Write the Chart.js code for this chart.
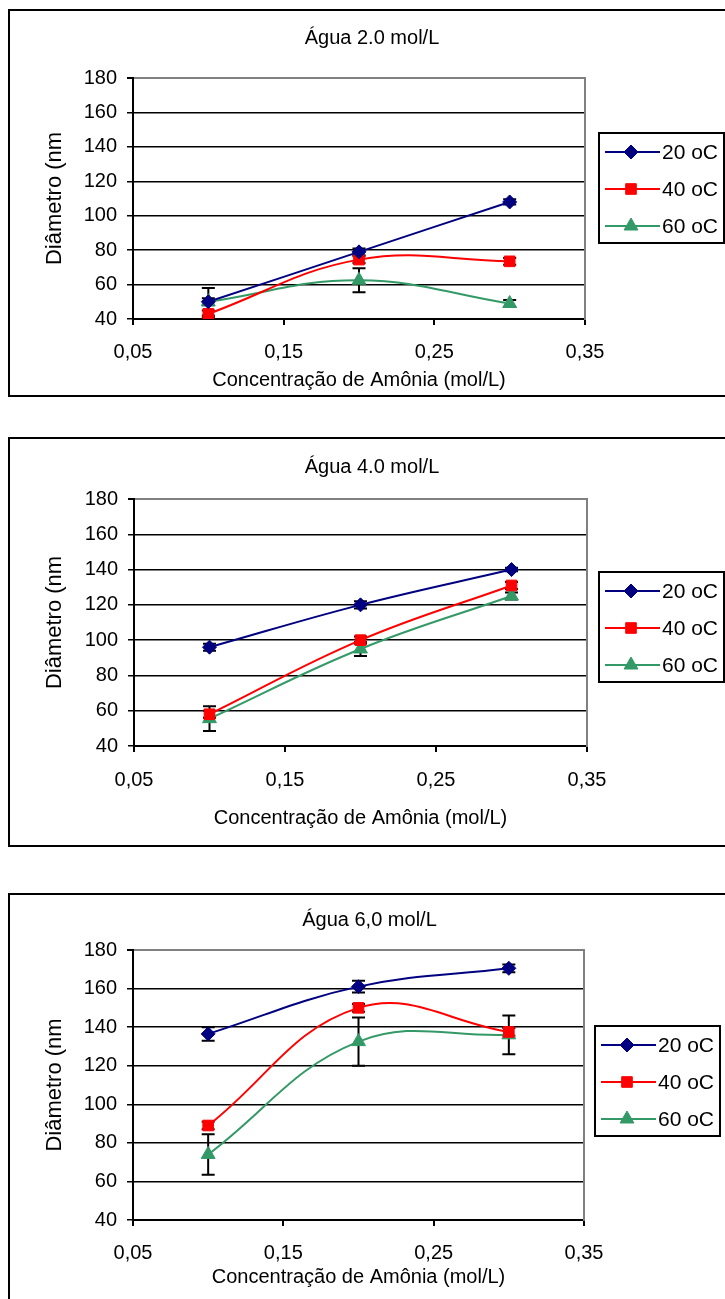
<!DOCTYPE html>
<html><head><meta charset="utf-8">
<script src="https://cdn.jsdelivr.net/npm/chart.js@4.4.1/dist/chart.umd.min.js"></script>
<style>
html,body{margin:0;padding:0;background:#fff;}
body{width:725px;height:1299px;overflow:hidden;position:relative;}
.box{position:absolute;left:8px;width:745px;border:2px solid #000;box-sizing:border-box;background:#fff;}
.box canvas{display:block;}
</style></head><body>
<div class="box" style="top:9px;height:388px"><canvas id="c1" width="741" height="384"></canvas></div>
<div class="box" style="top:437px;height:410px"><canvas id="c2" width="741" height="406"></canvas></div>
<div class="box" style="top:893px;height:420px"><canvas id="c3" width="741" height="416"></canvas></div>
<script>
// ---- data ----
const xValues = [0.1, 0.2, 0.3];
const seriesLabels = ['20 oC', '40 oC', '60 oC'];
const xTickValues = [0.05, 0.15, 0.25, 0.35];
const xTickLabels = ['0,05', '0,15', '0,25', '0,35'];
const yTickValues = [40, 60, 80, 100, 120, 140, 160, 180];
const yTickLabels = ['40', '60', '80', '100', '120', '140', '160', '180'];
const chartTitles = ['Água 2.0 mol/L', 'Água 4.0 mol/L', 'Água 6,0 mol/L'];
const xAxisTitle = 'Concentração de Amônia (mol/L)';
const yAxisTitle = 'Diâmetro (nm';

// Água 2.0 mol/L
const a2_20 = [50, 79, 108];     const a2_20err = [2, 2, 1.5];
const a2_40 = [43, 74.5, 73.5];  const a2_40err = [2, 2, 2];
const a2_60 = [50, 62.5, 49];    const a2_60err = [8, 7, 2];
// Água 4.0 mol/L
const a4_20 = [96, 120, 140];    const a4_20err = [2, 2, 1];
const a4_40 = [58, 100, 131];    const a4_40err = [2, 2, 2];
const a4_60 = [55.5, 95, 125];   const a4_60err = [7, 4, 2];
// Água 6,0 mol/L
const a6_20 = [136.5, 161, 170.5]; const a6_20err = [3.5, 3, 2];
const a6_40 = [89, 150, 137.5];    const a6_40err = [2, 2, 2];
const a6_60 = [74, 132.5, 136];    const a6_60err = [10.5, 12.5, 10];

// ---- styles ----
const seriesStyles = [
  {color: '#000080', pointStyle: 'rectRot', radius: 7},
  {color: '#ff0000', pointStyle: 'rect', radius: 7.5},
  {color: '#339966', pointStyle: 'triangle', radius: 8}
];
const FONT = "'Liberation Sans', Arial, sans-serif";
Chart.defaults.font.family = FONT;
Chart.defaults.color = '#000';

const errorBarPlugin = {
  id: 'errorBars',
  beforeDatasetsDraw(chart) {
    const ctx = chart.ctx, xs = chart.scales.x, ys = chart.scales.y;
    ctx.save();
    ctx.strokeStyle = '#000';
    ctx.lineWidth = 2;
    chart.data.datasets.forEach(ds => {
      ds.data.forEach((p, i) => {
        const e = ds.errors[i];
        const x = xs.getPixelForValue(p.x);
        const y1 = ys.getPixelForValue(p.y + e), y2 = ys.getPixelForValue(p.y - e);
        ctx.beginPath();
        ctx.moveTo(x, y1); ctx.lineTo(x, y2);
        ctx.moveTo(x - 6.5, y1); ctx.lineTo(x + 6.5, y1);
        ctx.moveTo(x - 6.5, y2); ctx.lineTo(x + 6.5, y2);
        ctx.stroke();
      });
    });
    ctx.restore();
  }
};

const boxLegendPlugin = {
  id: 'boxLegend',
  afterDraw(chart, args, opts) {
    const ctx = chart.ctx;
    const L = opts.left, T = opts.top, W = 125, H = 110;
    ctx.save();
    ctx.strokeStyle = '#000';
    ctx.lineWidth = 2;
    ctx.strokeRect(L, T, W, H);
    chart.data.datasets.forEach((ds, i) => {
      const y = T + 19 + i * 37;
      ctx.strokeStyle = ds.borderColor;
      ctx.lineWidth = 2;
      ctx.beginPath(); ctx.moveTo(L + 6, y); ctx.lineTo(L + 61, y); ctx.stroke();
      ctx.fillStyle = ds.backgroundColor;
      ctx.strokeStyle = ds.borderColor;
      ctx.lineWidth = 1;
      Chart.helpers.drawPoint(ctx, {pointStyle: ds.pointStyle, radius: ds.pointRadius, borderWidth: 1, rotation: 0}, L + 32, y);
      ctx.fillStyle = '#000';
      ctx.font = '21px ' + FONT;
      ctx.textAlign = 'left';
      ctx.textBaseline = 'middle';
      ctx.fillText(ds.label, L + 63, y + 1);
    });
    ctx.restore();
  }
};

function makeChart(id, title, values, errors, L) {
  const datasets = values.map((vals, i) => {
    const s = seriesStyles[i];
    return {
      label: seriesLabels[i],
      data: xValues.map((x, j) => ({x: x, y: vals[j]})),
      errors: errors[i],
      borderColor: s.color,
      backgroundColor: s.color,
      borderWidth: 2,
      pointStyle: s.pointStyle,
      pointRadius: s.radius,
      pointHoverRadius: s.radius,
      pointBorderWidth: 1,
      pointBackgroundColor: s.color,
      pointBorderColor: s.color,
      tension: 0.4,
      fill: false
    };
  });
  return new Chart(document.getElementById(id), {
    type: 'line',
    data: {datasets},
    plugins: [errorBarPlugin, boxLegendPlugin],
    options: {
      responsive: false,
      animation: false,
      devicePixelRatio: 1,
      layout: {padding: {left: 0, top: 0, bottom: 0, right: L.padRight}},
      plugins: {
        legend: {display: false},
        tooltip: {enabled: false},
        title: {display: true, text: title, color: '#000',
                font: {size: 20, weight: 'normal', family: FONT},
                padding: {top: L.titleTop, bottom: L.titleBottom}},
        boxLegend: {left: L.legLeft, top: L.legTop}
      },
      scales: {
        x: {
          type: 'linear', min: 0.05, max: 0.35,
          afterBuildTicks: s => { s.ticks = xTickValues.map(v => ({value: v})); },
          afterFit: s => { s.height = L.xHeight; },
          ticks: {callback: (v, i) => xTickLabels[i], font: {size: 20}, color: '#000', padding: L.xTickPad, maxRotation: 0},
          grid: {drawOnChartArea: false, drawTicks: true, tickLength: 6, color: '#000', lineWidth: 2},
          border: {display: true, color: '#000', width: 2},
          title: {display: true, text: xAxisTitle, font: {size: 20}, color: '#000', padding: {top: 0, bottom: L.xTitlePad}}
        },
        y: {
          type: 'linear', min: 40, max: 180,
          afterBuildTicks: s => { s.ticks = yTickValues.map(v => ({value: v})); },
          afterFit: s => { s.width = L.yWidth; },
          ticks: {callback: (v, i) => yTickLabels[i], font: {size: 20}, color: '#000', padding: 10},
          grid: {
            color: c => (c.tick && c.tick.value === 180) ? '#808080' : '#000',
            lineWidth: c => (c.tick && c.tick.value === 180) ? 2 : 1.5,
            tickColor: '#000', tickLength: 6, drawTicks: true
          },
          border: {display: true, color: '#000', width: 2},
          title: {display: true, text: yAxisTitle, font: {size: 22}, color: '#000', padding: {top: 32, bottom: 0}}
        },
        yFrame: {
          type: 'linear', position: 'right', min: 40, max: 180,
          afterFit: s => { s.width = L.frameWidth; },
          ticks: {display: false},
          grid: {display: false, drawTicks: false},
          border: {display: true, color: '#808080', width: 2}
        }
      }
    }
  });
}

makeChart('c1', chartTitles[0], [a2_20, a2_40, a2_60], [a2_20err, a2_40err, a2_60err],
  {padRight: 17, frameWidth: 149, titleTop: 15, titleBottom: 28, xHeight: 76, xTickPad: 15, xTitlePad: 3, yWidth: 123, legLeft: 589, legTop: 122});
makeChart('c2', chartTitles[1], [a4_20, a4_40, a4_60], [a4_20err, a4_40err, a4_60err],
  {padRight: 17, frameWidth: 147, titleTop: 16, titleBottom: 20, xHeight: 99, xTickPad: 16, xTitlePad: 15, yWidth: 124, legLeft: 589, legTop: 133});
makeChart('c3', chartTitles[2], [a6_20, a6_40, a6_60], [a6_20err, a6_40err, a6_60err],
  {padRight: 22, frameWidth: 145, titleTop: 13, titleBottom: 18, xHeight: 91, xTickPad: 15, xTitlePad: 22, yWidth: 123, legLeft: 585, legTop: 131});
</script>
</body></html>
